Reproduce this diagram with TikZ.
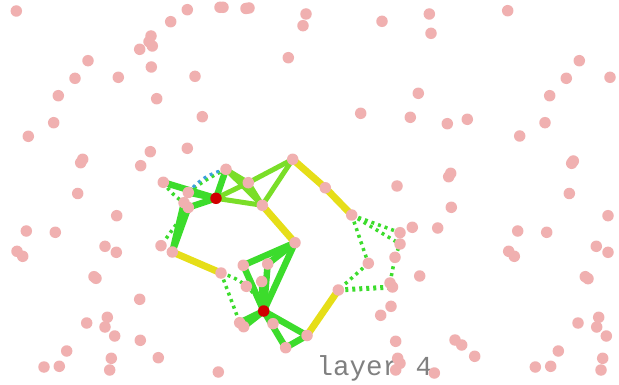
\documentclass[tikz,border=0pt]{standalone}
\usepackage{fontspec}
\newfontfamily\monof{Liberation Mono}
\definecolor{dotpink}{RGB}{240,176,176}
\definecolor{nodered}{RGB}{208,0,0}
\definecolor{egreen}{RGB}{60,220,44}
\definecolor{elime}{RGB}{122,222,40}
\definecolor{eyellow}{RGB}{230,222,24}
\definecolor{eblue}{RGB}{60,160,220}
\definecolor{txtgray}{RGB}{128,128,128}
\begin{document}
\begin{tikzpicture}[x=1pt,y=-1pt,
  pdot/.style={circle,fill=dotpink,inner sep=0pt,minimum size=11.5pt},
  rdot/.style={circle,fill=nodered,inner sep=0pt,minimum size=11.5pt},
  gedge/.style={draw=egreen,line width=6.5pt},
  ledge/.style={draw=elime,line width=5pt},
  yedge/.style={draw=eyellow,line width=7pt},
  dedge/.style={draw=egreen,line width=3.5pt,dash pattern=on 3pt off 4pt},
  bedge/.style={draw=eblue,line width=3pt,dash pattern=on 3pt off 4pt}]
\fill[white] (0,0) rectangle (619,385);
% graph coordinates
\coordinate (A) at (163.3,182.3);
\coordinate (B) at (226,169.3);
\coordinate (C) at (248.3,182.7);
\coordinate (D) at (292.7,159.3);
\coordinate (R1) at (216,198.3);
\coordinate (E) at (188.3,192.5);
\coordinate (F) at (184,202.7);
\coordinate (G) at (188.3,207.5);
\coordinate (H) at (262.3,205.3);
\coordinate (I) at (161,245.7);
\coordinate (J) at (172.3,252);
\coordinate (K) at (295,242.7);
\coordinate (L) at (221,273);
\coordinate (M) at (243.3,265.3);
\coordinate (N) at (267.7,264);
\coordinate (O) at (246.3,286.3);
\coordinate (P) at (261.7,281.5);
\coordinate (R2) at (263.7,311);
\coordinate (Q1) at (239.7,322.7);
\coordinate (Q2) at (243.7,326.7);
\coordinate (S) at (273,323.7);
\coordinate (T) at (307,335.5);
\coordinate (U) at (285.7,347.7);
\coordinate (V) at (325.3,187.8);
\coordinate (W) at (351.7,215);
\coordinate (X) at (338.3,290);
\coordinate (Y1) at (400,232.7);
\coordinate (Y2) at (400,244);
\coordinate (Y3) at (395,257.3);
\coordinate (Z) at (368.3,263.3);
\coordinate (AA) at (390,283);
\coordinate (AB) at (392.5,287);
% dotted edges
\draw[dedge] (A) to[bend right=10] (F);
\draw[dedge] (G) -- (I);
\draw[dedge] (E) to[bend left=6] (B);
\draw[bedge] (E) to[bend left=18] (B);
\draw[dedge] (L) -- (Q1);
\draw[dedge] (L) to[bend left=25] (R2);
\draw[dedge] (W) -- (Y1);
\draw[dedge] (W) -- (Y2);
\draw[dedge] (W) -- (Z);
\draw[dedge] (Z) -- (X);
\draw[dedge,line width=5pt] (X) -- (AB);
\draw[dedge] (AA) -- (Y3);
\draw[dedge] (Y3) -- (Y2);
% lime edges
\draw[ledge] (B) -- (C);
\draw[ledge] (B) -- (H);
\draw[ledge] (C) -- (D);
\draw[ledge] (D) -- (H);
\draw[ledge] (R1) -- (C);
\draw[ledge] (R1) -- (H);
\draw[ledge] (C) -- (H);
% green edges
\draw[gedge] (B) -- (R1);
\draw[gedge] (A) -- (R1);
\draw[gedge] (E) -- (R1);
\draw[gedge] (G) -- (R1);
\draw[gedge] (F) -- (J);
\draw[gedge] (G) -- (J);
\draw[gedge] (K) -- (M);
\draw[gedge] (K) -- (N);
\draw[gedge] (K) -- (R2);
\draw[gedge] (M) -- (R2);
\draw[gedge] (N) -- (R2);
\draw[gedge] (P) -- (R2);
\draw[gedge] (R2) -- (Q1);
\draw[gedge] (R2) -- (Q2);
\draw[gedge] (R2) -- (T);
\draw[gedge] (R2) -- (U);
\draw[gedge] (U) -- (T);
% yellow edges
\draw[yedge] (D) -- (V);
\draw[yedge] (V) -- (W);
\draw[yedge] (H) -- (K);
\draw[yedge] (J) -- (L);
\draw[yedge] (X) -- (T);
% label
\node[anchor=base west,inner sep=0pt,text=txtgray,font=\monof\fontsize{27.5}{27.5}\selectfont] (lbl) at (316.5,375) {layer 4};
% graph dots
\foreach \c in {A,B,C,D,E,F,G,H,I,J,K,L,M,N,O,P,Q1,Q2,S,T,U,V,W,X,Y1,Y2,Y3,Z,AA,AB}
  \node[pdot] (n\c) at (\c) {};
\node[rdot] (nR1) at (R1) {};
\node[rdot] (nR2) at (R2) {};
% scattered dots
\foreach \x/\y [count=\i] in {
16.3/11, 187.3/9.7, 170.7/21.7, 151/36, 149/41.7, 152.3/46, 139.7/49.3, 88/60.7,
75/78.3, 118.3/77.3, 151.3/67, 195/76.3, 58.3/95.7, 156.7/98.7, 202.3/116.7,
53.7/122.7, 28.3/136.3, 150.3/151.7, 187.3/148.3, 82.7/159.3, 80.7/162.7,
140.7/165.7, 77.7/193.5,
220/7.3, 223/7.3, 246/8.5, 249/8, 306/14, 303/25.7, 382/21.3, 288.3/57.7,
360.7/113.3, 410.3/117.3, 418.3/93.3, 397/186,
429.3/14, 431/33.3, 507.7/10.7, 579.3/60.7, 566.3/78.3, 610/77.3, 549.7/95.7,
447.3/123.7, 467.3/119.3, 545/122.7, 519.7/136, 573.3/161, 571.7/163.3,
450.7/173.3, 448.7/176.7, 569.3/193.5,
116.7/215.7, 26.3/231, 55.3/232.3, 17/251.3, 22.7/256.3, 105/246.3, 116.3/252.3,
94/276.7, 96/278.3, 139.7/299.3, 107.3/317.3, 86.7/323, 105/327, 114.7/336,
140.3/340.3, 66.7/351, 158.3/357.7, 111.3/358.3, 44/367, 59.3/366.3, 109.7/370,
412.3/227.3, 391/306.3, 380.7/315.3, 395.7/341.3, 397.7/358.3, 400/363.3,
395.7/370, 218.3/372,
451.3/207.3, 608/215.7, 437.7/228, 517.7/231, 546.7/232.3, 508.7/251.3,
514.3/256.3, 596.3/246.3, 608/252.3, 419.7/276, 585.3/276.7, 588/278.7,
598.7/317.3, 578/323, 596.7/327, 606.3/336, 558.3/351, 455/340, 461.7/345,
474.7/356.3, 602.7/358.3, 535.3/367, 550.7/366.3, 601/370, 434.3/373}
  \node[pdot] (p\i) at (\x,\y) {};
\end{tikzpicture}
\end{document}
